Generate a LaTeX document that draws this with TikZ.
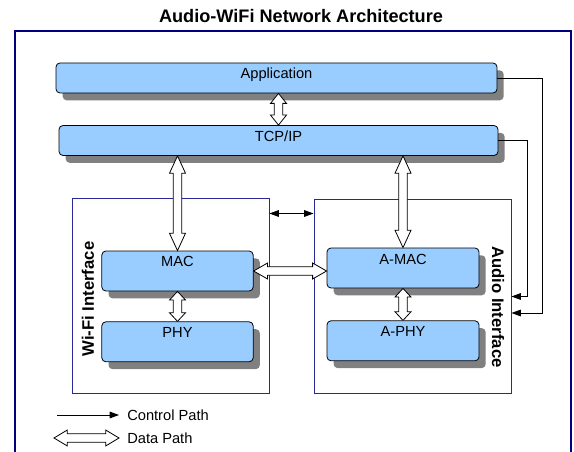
\documentclass[tikz,border=0pt]{standalone}
\usepackage{fontspec}
\setmainfont{Liberation Sans}
\usetikzlibrary{arrows.meta, positioning, calc, shadows}

\definecolor{layerblue}{RGB}{153,204,255}
\definecolor{shadowgray}{RGB}{128,128,128}
\definecolor{framenavy}{RGB}{0,0,128}
\definecolor{ifacenavy}{RGB}{40,40,150}

\begin{document}
\begin{tikzpicture}[
        x=0.75pt, y=-0.75pt,
        font=\fontsize{11}{13}\selectfont,
        % Styles
        title/.style={font=\fontsize{13.6}{15}\selectfont\bfseries},
        outerframe/.style={draw=framenavy, line width=1.5pt},
        layer/.style={
            rectangle, rounded corners=3pt,
            draw=black, line width=0.6pt, fill=layerblue,
            drop shadow={shadow xshift=5pt, shadow yshift=-5.5pt, fill=shadowgray, opacity=1},
            inner ysep=4pt, text height=8pt, text depth=#1
        },
        iface/.style={
            rectangle, draw=ifacenavy, line width=0.75pt,
            minimum width=147.75pt, minimum height=145.5pt
        },
        iflabel/.style={font=\fontsize{12.5}{14}\selectfont\bfseries},
        legend/.style={anchor=west, inner xsep=6pt},
        ctrl/.style={->, >={Triangle[length=7pt, width=5pt]}, line width=0.6pt},
        datapath/.style={
            draw=black, fill=white, line width=0.6pt,
            to path={
                let \p1=(\tikztostart), \p2=(\tikztotarget),
                    \n1={atan2(\y2-\y1,\x2-\x1)},
                    \n2={veclen(\x2-\x1,\y2-\y1)-#1}
                in -- ($(\p1)+(\n1:#1)+(\n1+90:6pt)$)
                   -- ($(\p1)+(\n1:#1)+(\n1+90:3.2pt)$)
                   -- ($(\p1)+(\n1:\n2)+(\n1+90:3.2pt)$)
                   -- ($(\p1)+(\n1:\n2)+(\n1+90:6pt)$)
                   -- (\p2)
                   -- ($(\p1)+(\n1:\n2)+(\n1-90:6pt)$)
                   -- ($(\p1)+(\n1:\n2)+(\n1-90:3.2pt)$)
                   -- ($(\p1)+(\n1:#1)+(\n1-90:3.2pt)$)
                   -- ($(\p1)+(\n1:#1)+(\n1-90:6pt)$)
                   -- cycle
            }
        },
        datapath/.default=12pt
    ]

        \useasboundingbox (0,0) rectangle (574,452);

        % Title and frame
        \node[title] (ttl) at (301,16) {Audio-WiFi Network Architecture};
        \draw[outerframe] (15,31) rectangle (571,470);

        % Upper layers
        \node[layer=6.5pt, minimum width=330.75pt, minimum height=22.5pt] (app) at (276.5,78) {Application};
        \node[layer=6.5pt, minimum width=329.25pt, minimum height=22.5pt] (tcp) at (278.5,140.5) {TCP/IP};

        % Interfaces
        \node[iface] (wififr) at (170.5,296) {};
        \node[iface] (audiofr) at (412.5,296.5) {};
        \node[iflabel, rotate=90] (wifilbl) at (88,299) {Wi-Fi Interface};
        \node[iflabel, rotate=-90] (audiolbl) at (498,307) {Audio Interface};

        \node[layer=14pt, minimum width=113.5pt, minimum height=30pt] (mac) at (177.5,271) {MAC};
        \node[layer=14pt, minimum width=113.5pt, minimum height=30pt, below=22.5pt of mac] (phy) {PHY};
        \node[layer=14pt, minimum width=114pt, minimum height=30pt] (amac) at (403,268) {A-MAC};
        \node[layer=14pt, minimum width=114pt, minimum height=30pt, below=24pt of amac] (aphy) {A-PHY};

        % Data paths
        \draw[datapath=7.5pt] (tcp.north |- app.south) to (tcp.north);
        \draw[datapath=13pt] (mac.north |- tcp.south) to (mac.north);
        \draw[datapath=13pt] (amac.north |- tcp.south) to (amac.north);
        \draw[datapath=6.5pt] (mac.south) to (phy.north);
        \draw[datapath=6.5pt] (amac.south) to (aphy.north);
        \draw[datapath=10.5pt] (mac.east) to (mac.east -| amac.west);

        % Control paths
        \coordinate (wifictl) at ($(wififr.north east)+(0,15)$);
        \coordinate (audioctl) at (wifictl -| audiofr.west);
        \coordinate (appin) at ($(audiofr.east)+(0,16.5)$);
        \draw[ctrl, <->] (wifictl) -- (audioctl);
        \draw[ctrl] (app.east) -- ++(45,0) |- (appin);
        \draw[ctrl] (tcp.east) -- ++(29,0) |- (audiofr.east);

        % Legend
        \node[legend] (ctrltxt) at (119,415) {Control Path};
        \node[legend] (datatxt) at (119,438) {Data Path};
        \coordinate (ctrlstart) at (57,415);
        \coordinate (datastart) at (54,438);
        \draw[ctrl] (ctrlstart) -- (ctrltxt.west);
        \draw[datapath=10pt] (datastart) to (datatxt.west);

    \end{tikzpicture}
\end{document}
